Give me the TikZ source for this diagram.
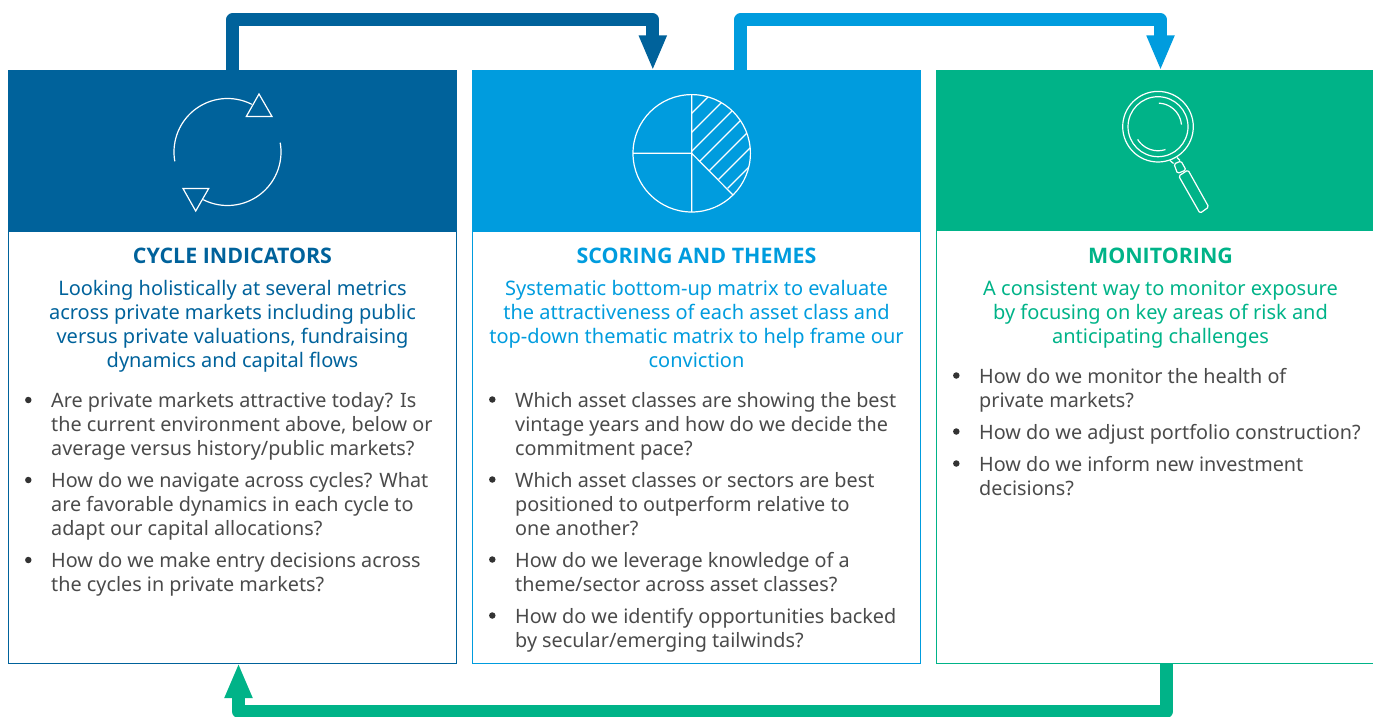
\documentclass[tikz,border=0pt]{standalone}
\usepackage{fontspec}
\setmainfont{Noto Sans}
\newfontfamily\ttlfont{Open Sans}
\usetikzlibrary{arrows.meta}
\definecolor{cdark}{HTML}{00629B}
\definecolor{cblue}{HTML}{009CDE}
\definecolor{cgreen}{HTML}{00B388}
\definecolor{cgray}{HTML}{4A4A4A}
\tikzset{
  hdr/.style={rectangle,inner sep=0pt,outer sep=0pt,minimum height=160pt,anchor=north west},
  body/.style={rectangle,inner sep=0pt,outer sep=0pt,draw=#1,line width=1pt,minimum height=432pt,minimum width=448pt,anchor=north west},
  flow/.style={line width=13pt,line join=round,-{Triangle[length=35pt,width=25.5pt]}},
  ttl/.style={font=\ttlfont\bfseries\fontsize{21.4}{24}\selectfont,inner sep=0pt,anchor=base},
  lead/.style={font=\fontsize{20}{24}\selectfont,inner sep=0pt,align=center,anchor=north},
  ask/.style={font=\fontsize{19.8}{24}\selectfont,inner sep=0pt,align=left,anchor=north west,text=cgray},
  dot/.style={circle,fill=black!80,inner sep=0pt,minimum size=6.5pt},
  ico/.style={draw=white,line width=1.2pt},
}
\newcommand{\icoarc}[5]{\draw[ico] plot[domain=#4:#5,samples=60,smooth] ({#1+#3*cos(\x)},{#2+#3*sin(\x)});}
\begin{document}
\begin{tikzpicture}[x=1pt,y=-1pt]
\useasboundingbox (0,0) rectangle (1373,717);
% panels
\node[body=cdark] (bodyA) at (8.5,231) {};
\node[body=cblue] (bodyB) at (472.5,231) {};
\node[hdr,fill=cdark,minimum width=448.5pt] (hdrA) at (8,70.5) {};
\node[hdr,fill=cblue,minimum width=448.5pt] (hdrB) at (472,70.5) {};
\node[hdr,fill=cgreen,minimum width=437pt] (hdrC) at (936,70.5) {};
\draw[cgreen,line width=1pt] (936.5,231) -- (936.5,663) -- (1373,663);
% connectors
\coordinate (aStart) at (232.5,70.5);
\coordinate (aTop) at (652.8,20);
\coordinate (aEnd) at (652.8,70.5);
\coordinate (bStart) at (740.5,70.5);
\coordinate (bTop) at (1160.5,20);
\coordinate (bEnd) at (1160.5,70.5);
\coordinate (cStart) at (1166.5,663);
\coordinate (cBot) at (238.5,711.5);
\coordinate (cEnd) at (238.5,663);
\draw[flow,cdark] (aStart) |- (aTop) -- (aEnd);
\draw[flow,cblue] (bStart) |- (bTop) -- (bEnd);
\draw[flow,cgreen] (cStart) |- (cBot) -- (cEnd);
% cycle icon
\icoarc{227.5}{152}{53.5}{170}{297}
\icoarc{227.5}{152}{53.5}{-10}{117}
\draw[ico,line join=miter] (259,94) -- (272,116.5) -- (246.3,116.5) -- cycle;
\draw[ico,line join=miter] (183,188.5) -- (208.7,188.5) -- (195.7,211) -- cycle;
% pie icon
\begin{scope}
\clip (691.7,153.3) -- (691.7,94) -- (760,94) -- (760,220) -- cycle;
\clip (691.7,153.3) circle[radius=58.7pt];
\foreach \s in {805,824,843,861,880,898,916}
  \draw[ico] ({\s-760},760) -- ({\s-50},50);
\end{scope}
\draw[ico] (691.7,153.3) circle[radius=58.7pt];
\draw[ico] (691.7,94.6) -- (691.7,212) (633,153.3) -- (691.7,153.3) -- (733,195);
% magnifier icon
\draw[ico] (1158,126.7) circle[radius=35.3pt];
\draw[ico] (1158,126.7) circle[radius=30pt];
\icoarc{1158}{126.7}{23.5}{-88}{-5}
\icoarc{1158}{126.7}{24}{148}{72}
\draw[ico,line join=round] (1170,160.5) -- (1173.5,163.5) (1177,157.5) -- (1180,160.5);
\draw[ico,line join=round,rounded corners=1.5pt] (1174,164) -- (1181,161) -- (1186,170) -- (1177.5,173.5) -- cycle;
\draw[ico,line join=round,rounded corners=1.5pt] (1178.7,176) -- (1188,170) -- (1208.7,207) -- (1200,213.3) -- cycle;
% titles
\node[ttl,text=cdark] (ttlA) at (232.5,263.5) {CYCLE INDICATORS};
\node[ttl,text=cblue] (ttlB) at (696.5,263.5) {SCORING AND THEMES};
\node[ttl,text=cgreen] (ttlC) at (1160.5,263.5) {MONITORING};
% leads
\node[lead,text=cdark] (leadA) at (232.5,280) {Looking holistically at several metrics\\across private markets including public\\versus private valuations, fundraising\\dynamics and capital flows};
\node[lead,text=cblue] (leadB) at (696.5,280) {Systematic bottom-up matrix to evaluate\\the attractiveness of each asset class and\\top-down thematic matrix to help frame our\\conviction};
\node[lead,text=cgreen] (leadC) at (1160.5,281) {A consistent way to monitor exposure\\by focusing on key areas of risk and\\anticipating challenges};
% bullets A
\node[dot] (dA1) at (28.3,400) {}; \node[ask] (qA1) at (51,392.5) {Are private markets attractive today? Is\\the current environment above, below or\\average versus history/public markets?};
\node[dot] (dA2) at (28.3,480) {}; \node[ask] (qA2) at (51,472.5) {How do we navigate across cycles? What\\are favorable dynamics in each cycle to\\adapt our capital allocations?};
\node[dot] (dA3) at (28.3,560) {}; \node[ask] (qA3) at (51,552.5) {How do we make entry decisions across\\the cycles in private markets?};
% bullets B
\node[dot] (dB1) at (492.3,399.5) {}; \node[ask] (qB1) at (515,392.5) {Which asset classes are showing the best\\vintage years and how do we decide the\\commitment pace?};
\node[dot] (dB2) at (492.3,479.5) {}; \node[ask] (qB2) at (515,472.5) {Which asset classes or sectors are best\\positioned to outperform relative to\\one another?};
\node[dot] (dB3) at (492.3,559.5) {}; \node[ask] (qB3) at (515,552.5) {How do we leverage knowledge of a\\theme/sector across asset classes?};
\node[dot] (dB4) at (492.3,615.5) {}; \node[ask] (qB4) at (515,608.5) {How do we identify opportunities backed\\by secular/emerging tailwinds?};
% bullets C
\node[dot] (dC1) at (956.3,375.5) {}; \node[ask] (qC1) at (979,368.5) {How do we monitor the health of\\private markets?};
\node[dot] (dC2) at (956.3,431.5) {}; \node[ask] (qC2) at (979,424.5) {How do we adjust portfolio construction?};
\node[dot] (dC3) at (956.3,463.5) {}; \node[ask] (qC3) at (979,456.5) {How do we inform new investment\\decisions?};
\end{tikzpicture}
\end{document}
